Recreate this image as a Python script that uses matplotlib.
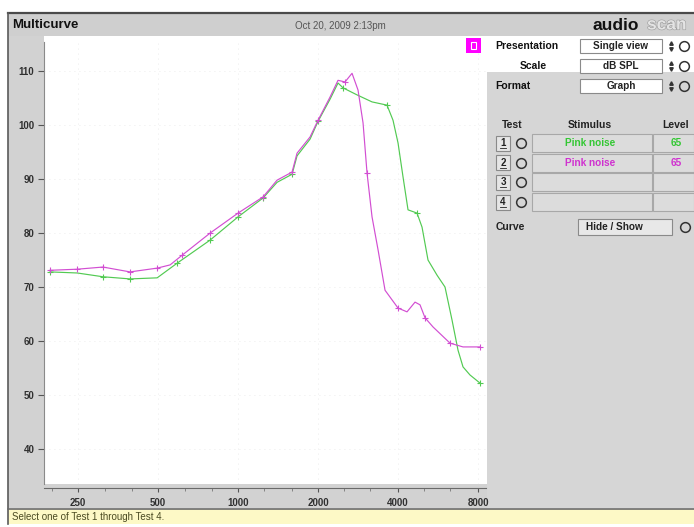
import matplotlib

matplotlib.use("Agg")
import matplotlib.pyplot as plt
from matplotlib.patches import Rectangle
from matplotlib.ticker import FixedLocator, FixedFormatter, NullFormatter
import matplotlib.patheffects as pe

plt.rcParams["font.family"] = ["Liberation Sans", "DejaVu Sans"]

# Test 1 (green) and Test 2 (magenta): frequency in Hz, level in dB SPL
freq_test1 = [196, 248, 310, 392, 496, 589, 785, 1000, 1242, 1402, 1597, 1667, 1866,
              2000, 2219, 2378, 2484, 2804, 3193, 3636, 3830, 4000, 4177, 4362, 4716,
              4925, 5187, 5608, 6010, 6386, 6727, 7025, 7464, 8139]
level_test1 = [72.8, 72.6, 71.9, 71.5, 71.7, 74.4, 78.7, 83.0, 86.5, 89.4, 90.9, 94.3, 97.4,
               100.7, 104.8, 107.8, 106.9, 105.6, 104.3, 103.7, 100.9, 96.7, 90.4, 84.3, 83.7,
               81.1, 75.0, 72.2, 70.0, 63.9, 58.3, 55.2, 53.7, 52.2]
marks_test1 = [0, 2, 3, 5, 6, 7, 8, 10, 13, 16, 19, 24, 33]

freq_test2 = [196, 248, 310, 392, 496, 555, 616, 785, 1000, 1242, 1402, 1597, 1667, 1866,
              2000, 2219, 2378, 2527, 2685, 2828, 2954, 3058, 3193, 3364, 3574, 4000, 4324,
              4635, 4840, 5054, 5417, 6276, 7025, 8139]
level_test2 = [73.1, 73.3, 73.7, 72.8, 73.5, 74.1, 75.9, 80.0, 83.7, 86.7, 89.8, 91.3, 94.8,
               97.8, 100.9, 105.2, 108.3, 108.0, 109.6, 106.5, 100.4, 91.1, 83.0, 76.9, 69.4,
               66.1, 65.4, 67.2, 66.7, 64.3, 62.6, 59.6, 58.9, 58.9]
marks_test2 = [0, 1, 2, 3, 4, 6, 7, 8, 9, 11, 14, 17, 21, 25, 29, 31, 33]

x_major = [250, 500, 1000, 2000, 4000, 8000]
x_labels = ["250", "500", "1000", "2000", "4000", "8000"]
x_minor = [200, 315, 400, 630, 800, 1250, 1600, 2500, 3150, 5000, 6300]
y_ticks = [40, 50, 60, 70, 80, 90, 100, 110]

rows = [("1", "Pink noise", "65", "#33c833"),
        ("2", "Pink noise", "65", "#d030d0"),
        ("3", "", "", "#000000"),
        ("4", "", "", "#000000")]

W, H = 694, 527
GRAY = "#d2d2d2"
fig = plt.figure(figsize=(W / 100, H / 100), dpi=100)

# window chrome, drawn in pixel coordinates
bg = fig.add_axes([0, 0, 1, 1], zorder=0)
bg.set_xlim(0, W)
bg.set_ylim(H, 0)
bg.axis("off")
bg.add_patch(Rectangle((8, 13), W - 8, 23, fc="#cfcfcf", ec="none"))
bg.add_patch(Rectangle((8, 36), 36, 472, fc=GRAY, ec="none"))
bg.add_patch(Rectangle((8, 484), 480, 24, fc=GRAY, ec="none"))
bg.add_patch(Rectangle((487, 72), W - 487, 436, fc="#d6d6d6", ec="none"))
bg.add_patch(Rectangle((8, 509), W - 8, 15, fc="#fdf9c6", ec="none"))
bg.plot([8, W], [13, 13], color="#4a4a4a", lw=1.6)
bg.plot([8, 8], [13, 524], color="#5a5a5a", lw=1.2)
bg.plot([8, W], [508.5, 508.5], color="#6a6a6a", lw=1.2)

# main graph
ax = fig.add_axes([44 / W, 1 - 484 / H, 442 / W, 442 / H], zorder=1)
ax.set_facecolor("white")
ax.set_xscale("log", base=2)
ax.set_xlim(186, 8574)
ax.set_ylim(33.5, 115.4)
ax.plot(freq_test1, level_test1, color="#52ca52", lw=0.85, marker="+", ms=4, mew=0.8,
        markevery=marks_test1)
ax.plot(freq_test2, level_test2, color="#d24ed2", lw=0.85, marker="+", ms=4, mew=0.8,
        markevery=marks_test2)
ax.xaxis.set_major_locator(FixedLocator(x_major))
ax.xaxis.set_major_formatter(FixedFormatter(x_labels))
ax.xaxis.set_minor_locator(FixedLocator(x_minor))
ax.xaxis.set_minor_formatter(NullFormatter())
ax.set_yticks(y_ticks)
ax.grid(which="major", color="#e6e6e6", lw=0.6, ls=(0, (1, 5)))
for side in ("top", "right"):
    ax.spines[side].set_visible(False)
ax.spines["left"].set_color("#8a8a8a")
ax.spines["bottom"].set_color("#6a6a6a")
ax.spines["bottom"].set_position(("outward", 3))
ax.tick_params(axis="y", direction="out", length=4, color="#555555", pad=3,
               labelsize=7, labelcolor="#303030")
ax.tick_params(axis="x", which="major", direction="out", length=3, color="#555555",
               pad=4, labelsize=7, labelcolor="#303030")
ax.tick_params(axis="x", which="minor", direction="out", length=2.5, color="#777777")
for lab in ax.get_xticklabels() + ax.get_yticklabels():
    lab.set_fontweight("bold")

# controls and texts on top
ui = fig.add_axes([0, 0, 1, 1], zorder=2)
ui.set_xlim(0, W)
ui.set_ylim(H, 0)
ui.axis("off")
ui.patch.set_alpha(0)

ui.text(12, 25, "Multicurve", fontsize=9.5, fontweight="bold", va="center", color="#111111")
ui.text(340, 26, "Oct 20, 2009 2:13pm", fontsize=7, va="center", ha="center", color="#555555")
ui.text(593, 25, "audio", fontsize=12.5, fontweight="bold", va="center", color="#111111")
ui.text(647, 25, "scan", fontsize=12.5, fontweight="bold", va="center", color="#e4e4e4",
        path_effects=[pe.withStroke(linewidth=0.8, foreground="#9a9a9a")])

ui.add_patch(Rectangle((466, 38), 15, 15, fc="#ff00ff", ec="none"))
ui.add_patch(Rectangle((471, 42), 5, 7, fc="none", ec="white", lw=0.8))


def combo(y, label, text, lx):
    ui.text(lx, y, label, fontsize=7.5, fontweight="bold", va="center", color="#111111")
    ui.add_patch(Rectangle((580, y - 7), 82, 14, fc="white", ec="#8a8a8a", lw=0.8))
    ui.text(621, y, text, fontsize=7.2, fontweight="bold", va="center", ha="center",
            color="#222222")
    ui.plot([671], [y - 3], marker="^", ms=2.5, color="#333333")
    ui.plot([671], [y + 3], marker="v", ms=2.5, color="#333333")
    ui.plot([684], [y], marker="o", ms=7, mfc="none", mec="#333333", mew=1.1)


combo(46, "Presentation", "Single view", 495)
combo(66, "Scale", "dB SPL", 520)
combo(86, "Format", "Graph", 495)

ui.text(512, 125, "Test", fontsize=7.5, fontweight="bold", va="center", ha="center",
        color="#222222")
ui.text(590, 125, "Stimulus", fontsize=7.5, fontweight="bold", va="center", ha="center",
        color="#222222")
ui.text(676, 125, "Level", fontsize=7.5, fontweight="bold", va="center", ha="center",
        color="#222222")

row_y = [143, 162.5, 182, 202]
for (num, stim, level, col), y in zip(rows, row_y):
    ui.add_patch(Rectangle((496, y - 7.5), 14, 15, fc="#e6e6e6", ec="#8a8a8a", lw=0.8))
    ui.text(503, y, num, fontsize=7, fontweight="bold", va="center", ha="center",
            color="#222222")
    ui.plot([500, 506], [y + 5, y + 5], color="#222222", lw=0.6)
    ui.plot([521], [y], marker="o", ms=7, mfc="none", mec="#333333", mew=1.1)
    ui.add_patch(Rectangle((532, y - 9), 120, 18, fc="#dcdcdc", ec="#a8a8a8", lw=0.8))
    ui.add_patch(Rectangle((653, y - 9), 41, 18, fc="#dcdcdc", ec="#a8a8a8", lw=0.8))
    ui.text(590, y, stim, fontsize=7.2, fontweight="bold", va="center", ha="center", color=col)
    ui.text(676, y, level, fontsize=7.2, fontweight="bold", va="center", ha="center", color=col)

ui.text(496, 227, "Curve", fontsize=7.5, fontweight="bold", va="center", color="#222222")
ui.add_patch(Rectangle((578, 219), 94, 16, fc="#e8e8e8", ec="#8a8a8a", lw=0.8))
ui.text(614, 227, "Hide / Show", fontsize=7.2, fontweight="bold", va="center", ha="center",
        color="#222222")
ui.plot([685], [227], marker="o", ms=7, mfc="none", mec="#333333", mew=1.1)

ui.text(12, 517, "Select one of Test 1 through Test 4.", fontsize=7, va="center",
        color="#4a4a22")

fig.savefig("out.png", dpi=100)
